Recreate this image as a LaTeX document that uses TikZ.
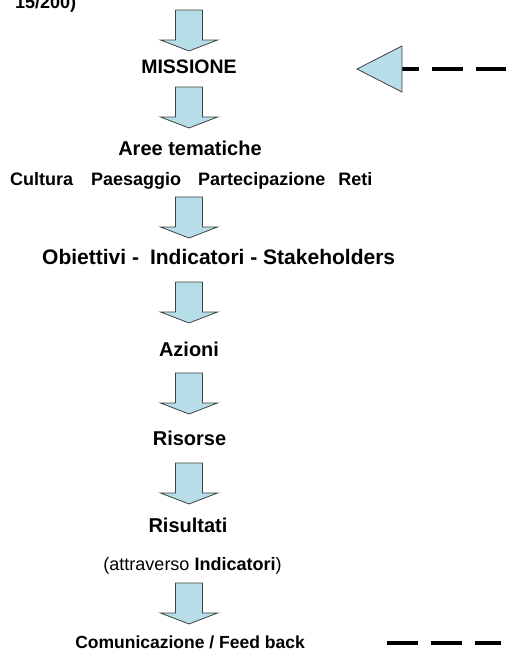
\documentclass[tikz,border=0pt]{standalone}
\usepackage{fontspec}
\setmainfont{Liberation Sans}
\definecolor{arrowblue}{RGB}{183,222,232}
\definecolor{arrowline}{RGB}{64,64,64}
\begin{document}
\begin{tikzpicture}[x=1pt,y=-1pt,
  blk/.style={fill=arrowblue, draw=arrowline, line width=0.8pt, line join=miter},
  lbl/.style={font=\fontsize{18}{21}\selectfont\bfseries, anchor=base, inner sep=0pt},
  big/.style={font=\fontsize{20}{24}\selectfont\bfseries, anchor=base, inner sep=0pt},
  plain/.style={font=\fontsize{18}{21}\selectfont, anchor=base, inner sep=0pt},
  dsh/.style={line width=4pt, dash pattern=on 31pt off 13pt}]
\useasboundingbox (0,0) rectangle (506,651);
\newcommand\barrow[2]{%
  \coordinate (#1) at (189,#2);
  \draw[blk, shift={(#1)}] (-13.5,0) -- (13.5,0) -- (13.5,30) -- (28.5,30)
    -- (0,41) -- (-28.5,30) -- (-13.5,30) -- cycle;}
% top-left cut-off text
\node[lbl, anchor=base west] (ref) at (15,8) {15/200)};
% block arrows
\barrow{a1}{10}
\barrow{a2}{87}
\barrow{a3}{197}
\barrow{a4}{282}
\barrow{a5}{373}
\barrow{a6}{463}
\barrow{a7}{583}
% labels
\node[big, font=\fontsize{19.5}{23}\selectfont\bfseries] (missione) at (189,73) {MISSIONE};
\node[big] (aree) at (190,155) {Aree tematiche};
\node[lbl, anchor=base west] (cultura) at (10,185)
  {Cultura\hspace{18pt}Paesaggio\hspace{17pt}Partecipazione\hspace{13pt}Reti};
\node[big, anchor=base west, font=\fontsize{21}{25}\selectfont\bfseries] (obiettivi) at (42,264)
  {Obiettivi -\hspace{11pt}Indicatori - Stakeholders};
\node[big] (azioni) at (189,356) {Azioni};
\node[big] (risorse) at (189.5,445) {Risorse};
\node[big] (risultati) at (188,532) {Risultati};
\node[plain] (attraverso) at (192.5,570) {(attraverso \textbf{Indicatori})};
\node[lbl, font=\fontsize{17.5}{21}\selectfont\bfseries] (comunicazione) at (190,648) {Comunicazione / Feed back};
% feedback dashed lines and triangle
\coordinate (fbstart) at (388,69);
\coordinate (fbend) at (520,69);
\draw[dsh] (fbstart) -- (fbend);
\coordinate (tip) at (357,69);
\coordinate (tb1) at (402,46);
\coordinate (tb2) at (402,92);
\draw[blk] (tip) -- (tb1) -- (tb2) -- cycle;
\coordinate (bdl) at (387,643);
\coordinate (bdr) at (501,643);
\draw[dsh] (bdl) -- (bdr);
\end{tikzpicture}
\end{document}
